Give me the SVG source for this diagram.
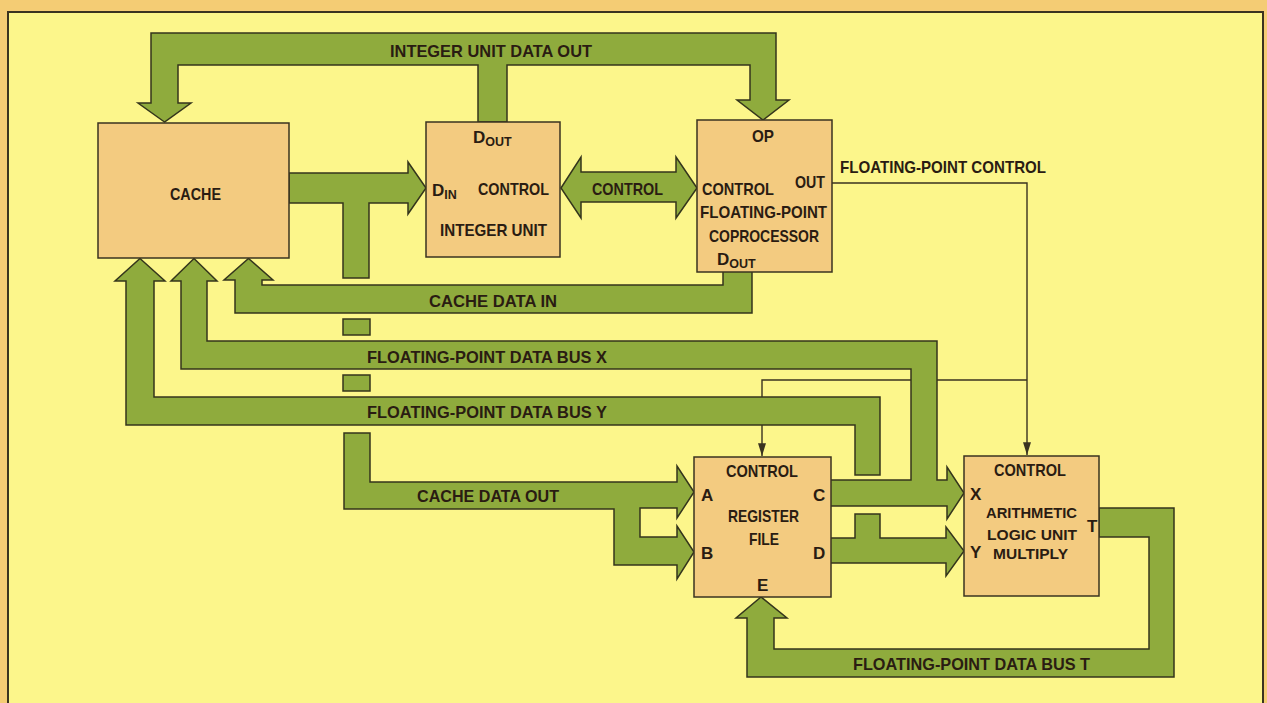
<svg xmlns="http://www.w3.org/2000/svg" width="1267" height="703" viewBox="0 0 1267 703">
<style>
.bus{fill:#8fab3d;stroke:#34351c;stroke-width:1.5;stroke-linejoin:miter}
.box{fill:#f3cb80;stroke:#3a3320;stroke-width:1.5}
.wire{fill:none;stroke:#3a3320;stroke-width:1.4}
text{font-family:"Liberation Sans",Arial,sans-serif;font-weight:bold;font-size:17px;fill:#2a1c12}
.sub{font-size:12.5px}
.sm{font-size:15px}
</style>
<defs>
<marker id="ah" viewBox="0 0 16 10" refX="16" refY="5" markerWidth="14" markerHeight="8" markerUnits="userSpaceOnUse" orient="auto">
<path d="M0,0 L16,5 L0,10 Z" fill="#3a3320"/>
</marker>
</defs>
<rect x="0" y="0" width="1267" height="703" fill="#f4cc74"/>
<rect x="8" y="12" width="1255" height="700" fill="#fcf68b" stroke="#3a3320" stroke-width="2"/>

<g id="connectors">
<!-- thin control lines (under buses) -->
<path class="wire" d="M832,183 H1027 V455" marker-end="url(#ah)"/>
<path class="wire" d="M1027,380 H762 V456" marker-end="url(#ah)"/>

<!-- integer unit data out -->
<polygon class="bus" points="164.5,122 138,103 151,103 151,33 776,33 776,100 789,100 763,120 737,100 750,100 750,65 507,65 507,122 478,122 478,65 178,65 178,103 191,103"/>
<text x="390" y="57" textLength="202" lengthAdjust="spacingAndGlyphs">INTEGER UNIT DATA OUT</text>

<!-- cache to integer unit D_IN, with T stem -->
<polygon class="bus" points="289,173 408,173 408,162 426,188 408,214 408,203 369,203 369,278 343,278 343,203 289,203"/>
<rect class="bus" x="343" y="319" width="27" height="16"/>
<rect class="bus" x="343" y="375" width="27" height="16"/>

<!-- control double arrow -->
<polygon class="bus" points="561,188 581,157 581,172 676,172 676,157 697,188 676,218 676,202 581,202 581,218"/>
<text x="592" y="195" textLength="71" lengthAdjust="spacingAndGlyphs">CONTROL</text>

<!-- cache data in -->
<polygon class="bus" points="723,271 752,271 752,313 235,313 235,280 224,280 248.5,258.5 273,280 262,280 262,285 723,285"/>
<text x="429" y="307" textLength="128" lengthAdjust="spacingAndGlyphs">CACHE DATA IN</text>

<!-- FP data bus X with C to X -->
<polygon class="bus" points="194,258.5 217,281 207,281 207,341 937,341 937,480 947,480 947,467 964,493 947,519 947,506 830,506 830,480 911,480 911,369 181,369 181,281 171,281"/>
<text x="367" y="363" textLength="240" lengthAdjust="spacingAndGlyphs">FLOATING-POINT DATA BUS X</text>

<!-- FP data bus Y -->
<polygon class="bus" points="140,258.5 165,281 154,281 154,397 880,397 880,475 855,475 855,425 126,425 126,281 115,281"/>
<polygon class="bus" points="830,538 855,538 855,514 880,514 880,538 946,538 946,527 964,551 946,576 946,563 830,563"/>
<text x="367" y="418" textLength="240" lengthAdjust="spacingAndGlyphs">FLOATING-POINT DATA BUS Y</text>

<!-- cache data out to A and B -->
<polygon class="bus" points="344,433 370,433 370,482 677,482 677,466 694,492 677,518 677,508 640,508 640,537 677,537 677,526 694,552 677,579 677,565 614,565 614,509 344,509"/>
<text x="417" y="502" textLength="142" lengthAdjust="spacingAndGlyphs">CACHE DATA OUT</text>

<!-- FP data bus T -->
<polygon class="bus" points="1099,508 1174,508 1174,677 747,677 747,618 736,618 761,597 787,618 774,618 774,649 1149,649 1149,537 1099,537"/>
<text x="853" y="670" textLength="237" lengthAdjust="spacingAndGlyphs">FLOATING-POINT DATA BUS T</text>

<text x="840" y="173" textLength="206" lengthAdjust="spacingAndGlyphs">FLOATING-POINT CONTROL</text>
</g>

<g id="cache">
<rect class="box" x="98" y="123" width="191" height="135"/>
<text x="170" y="200" textLength="51" lengthAdjust="spacingAndGlyphs">CACHE</text>
</g>

<g id="integer-unit">
<rect class="box" x="426" y="122" width="134" height="135"/>
<text x="473" y="143">D<tspan class="sub" dy="3">OUT</tspan></text>
<text x="432" y="196">D<tspan class="sub" dy="3">IN</tspan></text>
<text x="478" y="195" textLength="71" lengthAdjust="spacingAndGlyphs">CONTROL</text>
<text x="440" y="236" textLength="107" lengthAdjust="spacingAndGlyphs">INTEGER UNIT</text>
</g>

<g id="fp-coprocessor">
<rect class="box" x="697" y="120" width="135" height="152"/>
<text x="752" y="142" textLength="22" lengthAdjust="spacingAndGlyphs">OP</text>
<text x="702" y="195" textLength="72" lengthAdjust="spacingAndGlyphs">CONTROL</text>
<text x="795" y="188" textLength="30" lengthAdjust="spacingAndGlyphs">OUT</text>
<text x="700" y="218" textLength="127" lengthAdjust="spacingAndGlyphs">FLOATING-POINT</text>
<text x="709" y="242" textLength="110" lengthAdjust="spacingAndGlyphs">COPROCESSOR</text>
<text x="717" y="265">D<tspan class="sub" dy="3">OUT</tspan></text>
</g>

<g id="register-file">
<rect class="box" x="694" y="457" width="137" height="140"/>
<text x="726" y="477" textLength="72" lengthAdjust="spacingAndGlyphs">CONTROL</text>
<text x="701" y="501">A</text>
<text x="701" y="559">B</text>
<text x="813" y="501">C</text>
<text x="813" y="559">D</text>
<text x="728" y="522" textLength="71" lengthAdjust="spacingAndGlyphs">REGISTER</text>
<text x="749" y="545" textLength="30" lengthAdjust="spacingAndGlyphs">FILE</text>
<text x="757" y="591">E</text>
</g>

<g id="alu">
<rect class="box" x="964" y="456" width="135" height="140"/>
<text x="994" y="476" textLength="72" lengthAdjust="spacingAndGlyphs">CONTROL</text>
<text x="970" y="500">X</text>
<text class="sm" x="986" y="518" textLength="91" lengthAdjust="spacingAndGlyphs">ARITHMETIC</text>
<text x="1087" y="532">T</text>
<text class="sm" x="987" y="540" textLength="90" lengthAdjust="spacingAndGlyphs">LOGIC UNIT</text>
<text x="970" y="558">Y</text>
<text class="sm" x="993" y="559" textLength="75" lengthAdjust="spacingAndGlyphs">MULTIPLY</text>
</g>
</svg>
